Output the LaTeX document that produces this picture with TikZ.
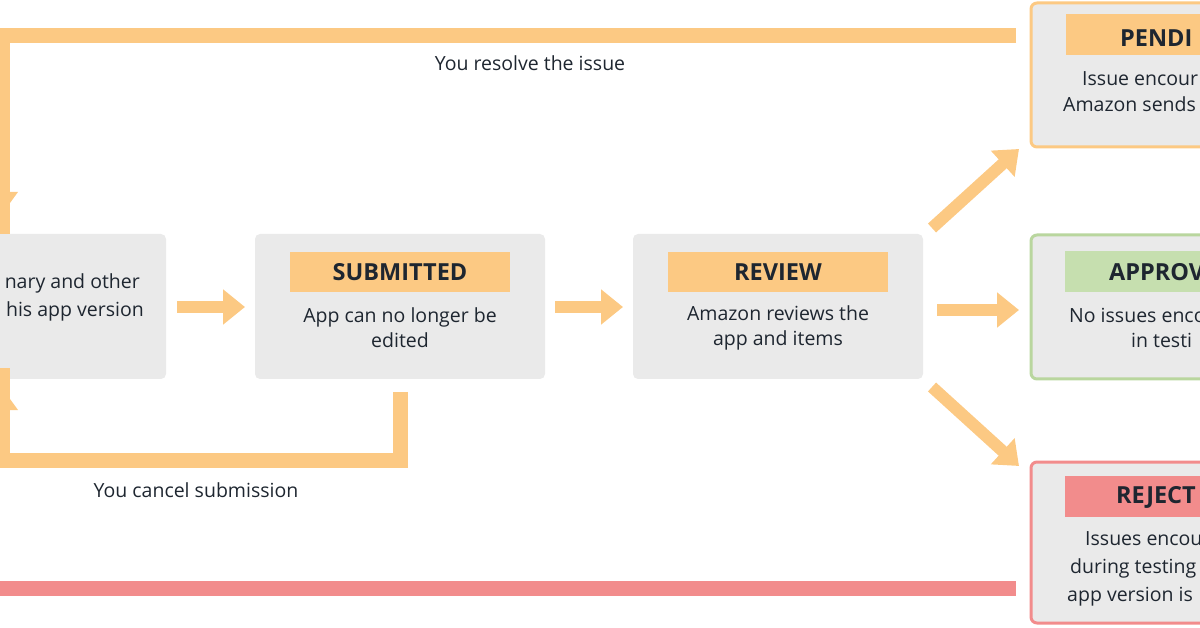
\documentclass[tikz,border=0pt]{standalone}
\usepackage{fontspec}
\setmainfont{Open Sans}
\usetikzlibrary{arrows.meta}
\definecolor{org}{HTML}{FCC983}
\definecolor{grn}{HTML}{C6DFAF}
\definecolor{grnb}{HTML}{B9D69E}
\definecolor{rd}{HTML}{F28C8C}
\definecolor{bx}{HTML}{EAEAEA}
\definecolor{tx}{HTML}{1E2630}
\begin{document}
\begin{tikzpicture}[x=1pt,y=-1pt,
  box/.style={fill=bx,rounded corners=5pt,draw=none},
  ttl/.style={font=\fontsize{23.5}{26}\selectfont\bfseries,text=tx,inner sep=0},
  txt/.style={font=\fontsize{19.5}{25}\selectfont,text=tx,inner sep=0,align=center},
  arr/.style={org,line width=12pt,-{Triangle[length=22pt,width=34pt]}},
  loop/.style={org,line width=15pt}]
\useasboundingbox (0,0) rectangle (1200,628);
\clip (0,0) rectangle (1200,628);
% boxes
\draw[box] (-200,234) rectangle (166,379);
\draw[box] (255,234) rectangle (545,379);
\draw[box] (633,234) rectangle (923,379);
\draw[fill=bx,draw=org,line width=3pt,rounded corners=6pt] (1031,3) rectangle (1300,147);
\draw[fill=bx,draw=grnb,line width=3pt,rounded corners=6pt] (1031,235) rectangle (1300,379);
\draw[fill=bx,draw=rd,line width=3pt,rounded corners=6pt] (1031,462) rectangle (1300,623);
% title bars
\fill[org] (290,252) rectangle (510,292);
\fill[org] (668,252) rectangle (888,292);
\fill[org] (1066,14) rectangle (1300,55);
\fill[grn] (1065,251) rectangle (1300,292);
\fill[rd] (1065,476) rectangle (1300,517);
% texts
\node[txt,anchor=east] (t0) at (140,283) {nary and other};
\node[txt,anchor=east] (t1) at (144,311) {his app version};
\node[ttl] (ts) at (400,272) {SUBMITTED};
\node[txt] (bs) at (400,328) {App can no longer be\\edited};
\node[ttl] (tr) at (778,272) {REVIEW};
\node[txt] (br) at (778,328) {Amazon reviews the\\app and items};
\node[ttl,anchor=west] (tp) at (1120,38) {PENDI};
\node[txt,anchor=west] (p1) at (1082,79) {Issue encour};
\node[txt,anchor=west] (p2) at (1063,104) {Amazon sends};
\node[ttl,anchor=west] (ta) at (1109,272) {APPROV};
\node[txt,anchor=west] (a1) at (1069,315) {No issues enco};
\node[txt,anchor=west] (a2) at (1131,340) {in testi};
\node[ttl,anchor=west] (tj) at (1116,497) {REJECT};
\node[txt,anchor=west] (j1) at (1085,539) {Issues encou};
\node[txt,anchor=west] (j2) at (1070,568) {during testing};
\node[txt,anchor=west] (j3) at (1067,597) {app version is};
\node[txt] (l1) at (530,63) {You resolve the issue};
\node[txt] (l2) at (196,490) {You cancel submission};
% connectors
\coordinate (a) at (177,307); \coordinate (b) at (245,307);
\draw[arr] (a) -- (b);
\coordinate (c) at (555,307); \coordinate (d) at (623,307);
\draw[arr] (c) -- (d);
\coordinate (e) at (937,310); \coordinate (f) at (1019,310);
\draw[arr] (e) -- (f);
\coordinate (g) at (932,228); \coordinate (h) at (1019,149);
\draw[arr] (g) -- (h);
\coordinate (i) at (932,387); \coordinate (k) at (1019,466);
\draw[arr] (i) -- (k);
\coordinate (p) at (1016,36); \coordinate (q) at (2,36); \coordinate (r) at (2,214);
\draw[loop] (p) -- (q) -- ([yshift=-20pt]r);
\fill[org] (r) -- (-16,192) -- (18,192) -- cycle;
\coordinate (s) at (400,392); \coordinate (u) at (400,460); \coordinate (v) at (2,460); \coordinate (w) at (2,388);
\draw[loop] (s) -- (u) -- (v) -- ([yshift=20pt]w);
\fill[org] (w) -- (-16,410) -- (18,410) -- cycle;
\coordinate (m) at (-10,588); \coordinate (n) at (1016,588);
\draw[rd,line width=15pt] (m) -- (n);
\end{tikzpicture}
\end{document}
